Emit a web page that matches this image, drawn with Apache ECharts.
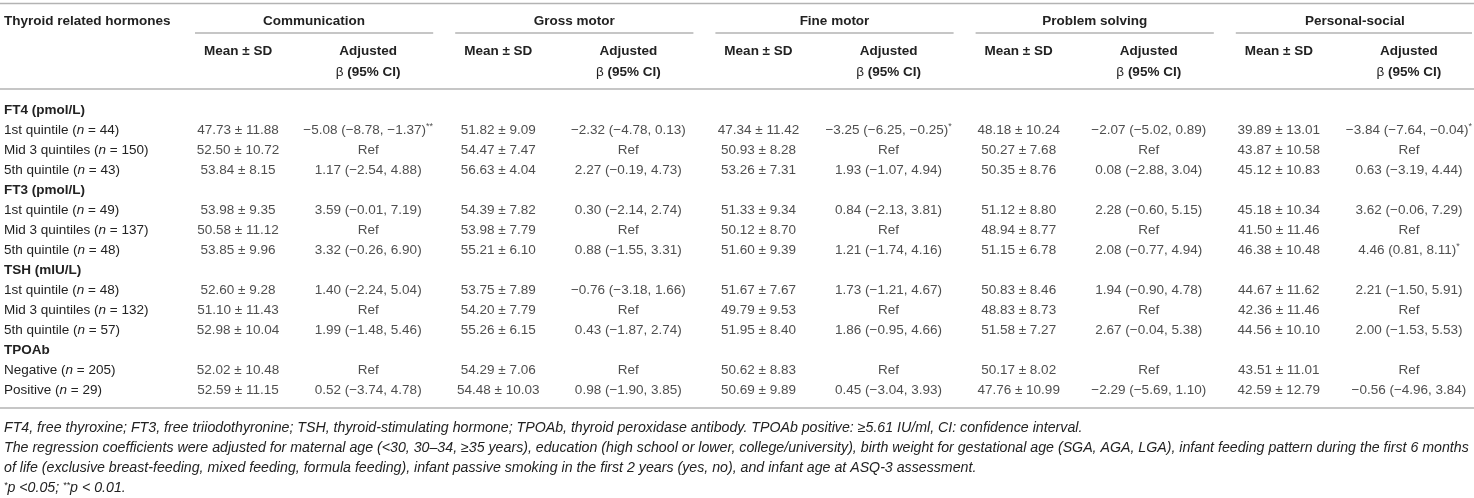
<!DOCTYPE html>
<html>
<head>
<meta charset="utf-8">
<script src="https://cdn.jsdelivr.net/npm/echarts@6/dist/echarts.min.js"></script>
<style>
  html, body { margin: 0; padding: 0; background: #fff; }
  #chart { width: 1474px; height: 498px; }
</style>
</head>
<body>
<div id="chart"></div>
<script>
// ---- table data ----
const cornerHead = 'Thyroid related hormones';
const domains = ['Communication', 'Gross motor', 'Fine motor', 'Problem solving', 'Personal-social'];
const columnHeads = ['Mean ± SD', 'Adjusted\nβ (95% CI)'];
const groupRows = ['FT4 (pmol/L)', 'FT3 (pmol/L)', 'TSH (mIU/L)', 'TPOAb'];
const rowLabels = [
  'FT4 (pmol/L)', '1st quintile (n = 44)', 'Mid 3 quintiles (n = 150)', '5th quintile (n = 43)',
  'FT3 (pmol/L)', '1st quintile (n = 49)', 'Mid 3 quintiles (n = 137)', '5th quintile (n = 48)',
  'TSH (mIU/L)', '1st quintile (n = 48)', 'Mid 3 quintiles (n = 132)', '5th quintile (n = 57)',
  'TPOAb', 'Negative (n = 205)', 'Positive (n = 29)'
];

// [mean, SD] for each data row (group header rows skipped)
const commMean = [[47.73, 11.88], [52.50, 10.72], [53.84, 8.15], [53.98, 9.35], [50.58, 11.12], [53.85, 9.96],
  [52.60, 9.28], [51.10, 11.43], [52.98, 10.04], [52.02, 10.48], [52.59, 11.15]];
const grossMean = [[51.82, 9.09], [54.47, 7.47], [56.63, 4.04], [54.39, 7.82], [53.98, 7.79], [55.21, 6.10],
  [53.75, 7.89], [54.20, 7.79], [55.26, 6.15], [54.29, 7.06], [54.48, 10.03]];
const fineMean = [[47.34, 11.42], [50.93, 8.28], [53.26, 7.31], [51.33, 9.34], [50.12, 8.70], [51.60, 9.39],
  [51.67, 7.67], [49.79, 9.53], [51.95, 8.40], [50.62, 8.83], [50.69, 9.89]];
const problemMean = [[48.18, 10.24], [50.27, 7.68], [50.35, 8.76], [51.12, 8.80], [48.94, 8.77], [51.15, 6.78],
  [50.83, 8.46], [48.83, 8.73], [51.58, 7.27], [50.17, 8.02], [47.76, 10.99]];
const personalMean = [[39.89, 13.01], [43.87, 10.58], [45.12, 10.83], [45.18, 10.34], [41.50, 11.46], [46.38, 10.48],
  [44.67, 11.62], [42.36, 11.46], [44.56, 10.10], [43.51, 11.01], [42.59, 12.79]];

// [beta, lower, upper, significance]; null = reference group
const commBeta = [[-5.08, -8.78, -1.37, '**'], null, [1.17, -2.54, 4.88, ''], [3.59, -0.01, 7.19, ''], null,
  [3.32, -0.26, 6.90, ''], [1.40, -2.24, 5.04, ''], null, [1.99, -1.48, 5.46, ''], null, [0.52, -3.74, 4.78, '']];
const grossBeta = [[-2.32, -4.78, 0.13, ''], null, [2.27, -0.19, 4.73, ''], [0.30, -2.14, 2.74, ''], null,
  [0.88, -1.55, 3.31, ''], [-0.76, -3.18, 1.66, ''], null, [0.43, -1.87, 2.74, ''], null, [0.98, -1.90, 3.85, '']];
const fineBeta = [[-3.25, -6.25, -0.25, '*'], null, [1.93, -1.07, 4.94, ''], [0.84, -2.13, 3.81, ''], null,
  [1.21, -1.74, 4.16, ''], [1.73, -1.21, 4.67, ''], null, [1.86, -0.95, 4.66, ''], null, [0.45, -3.04, 3.93, '']];
const problemBeta = [[-2.07, -5.02, 0.89, ''], null, [0.08, -2.88, 3.04, ''], [2.28, -0.60, 5.15, ''], null,
  [2.08, -0.77, 4.94, ''], [1.94, -0.90, 4.78, ''], null, [2.67, -0.04, 5.38, ''], null, [-2.29, -5.69, 1.10, '']];
const personalBeta = [[-3.84, -7.64, -0.04, '*'], null, [0.63, -3.19, 4.44, ''], [3.62, -0.06, 7.29, ''], null,
  [4.46, 0.81, 8.11, '*'], [2.21, -1.50, 5.91, ''], null, [2.00, -1.53, 5.53, ''], null, [-0.56, -4.96, 3.84, '']];

const footnotes = [
  'FT4, free thyroxine; FT3, free triiodothyronine; TSH, thyroid-stimulating hormone; TPOAb, thyroid peroxidase antibody. TPOAb positive: ≥5.61 IU/ml, CI: confidence interval.',
  'The regression coefficients were adjusted for maternal age (<30, 30–34, ≥35 years), education (high school or lower, college/university), birth weight for gestational age (SGA, AGA, LGA), infant feeding pattern during the first 6 months',
  'of life (exclusive breast-feeding, mixed feeding, formula feeding), infant passive smoking in the first 2 years (yes, no), and infant age at ASQ-3 assessment.',
  '{s|*}p <0.05; {s|**}p < 0.01.'
];

// ---- helpers ----
const FONT = '"Liberation Sans", Arial, sans-serif';
const TEXT = '#222';
const RULE = '#b3b3b3';
const FS = 13.5;
const FS_NOTE = 14.2;

const num = v => (v < 0 ? '\u2212' : '') + Math.abs(v).toFixed(2);
const fmtMean = m => m[0].toFixed(2) + ' ± ' + m[1].toFixed(2);
const fmtBeta = b => b === null ? 'Ref'
  : num(b[0]) + ' (' + num(b[1]) + ', ' + num(b[2]) + ')' + (b[3] ? '{sup|' + b[3] + '}' : '');

const means = [commMean, grossMean, fineMean, problemMean, personalMean];
const betas = [commBeta, grossBeta, fineBeta, problemBeta, personalBeta];

const dataRowIdx = rowLabels.map((r, i) => groupRows.includes(r) ? -1 : i).filter(i => i >= 0);
const colLabels = [];
domains.forEach(() => colLabels.push(...columnHeads));

const cells = [];
domains.forEach((d, di) => {
  dataRowIdx.forEach((ri, k) => {
    cells.push([di * 2, ri, fmtMean(means[di][k])]);
    cells.push([di * 2 + 1, ri, fmtBeta(betas[di][k])]);
  });
});

// header label: bold, except a leading β which is set in regular weight
const headFmt = v => {
  const lines = v.split('\n').map(s => s.charAt(0) === 'β'
    ? '{r|β}{b|' + s.slice(1) + '}'
    : '{b|' + s + '}');
  if (lines.length < 2) lines.push('{b| }');
  return lines.join('\n');
};

// ---- layout ----
const W = 1474;
const gridLeft = 173, gridTop = 100, rowH = 20;
const colW = (W - gridLeft) / colLabels.length;

const chart = echarts.init(document.getElementById('chart'), null, { renderer: 'canvas' });

const rule = (x1, x2, y) => ({
  type: 'line', silent: true,
  shape: { x1: x1, y1: y, x2: x2, y2: y },
  style: { stroke: RULE, lineWidth: 1.6 }
});

const graphics = [rule(0, W, 3.5), rule(0, W, 89), rule(0, W, 408)];
domains.forEach((d, di) => {
  const x0 = gridLeft + di * 2 * colW;
  graphics.push(rule(x0 + 22, Math.min(x0 + 2 * colW, W - 2), 33));
});
graphics.push({
  type: 'text', silent: true, x: 4, y: 21,
  style: {
    text: cornerHead, fill: TEXT, fontWeight: 'bold', fontSize: FS, fontFamily: FONT,
    verticalAlign: 'middle', align: 'left'
  }
});
footnotes.forEach((t, i) => {
  graphics.push({
    type: 'text', silent: true, x: 4, y: 428 + i * 20,
    style: {
      text: t, fill: TEXT, fontStyle: 'italic', fontSize: FS_NOTE, fontFamily: FONT,
      verticalAlign: 'middle', align: 'left',
      rich: { s: { fontSize: 9, fontStyle: 'italic', fontFamily: FONT, verticalAlign: 'top', lineHeight: 9, fill: TEXT } }
    }
  });
});

const option = {
  backgroundColor: '#fff',
  animation: false,
  textStyle: { fontFamily: FONT, color: TEXT },
  grid: { left: gridLeft, right: 0, top: gridTop, height: rowLabels.length * rowH, containLabel: false },
  xAxis: [
    {
      type: 'category', position: 'top', data: colLabels,
      axisLine: { show: false }, axisTick: { show: false }, splitLine: { show: false },
      axisLabel: {
        interval: 0, margin: 17, color: TEXT,
        formatter: headFmt,
        rich: {
          b: { fontWeight: 'bold', fontSize: FS, lineHeight: 21, fontFamily: FONT, color: TEXT },
          r: { fontWeight: 'normal', fontSize: FS, lineHeight: 21, fontFamily: FONT, color: TEXT }
        }
      }
    },
    {
      type: 'category', position: 'top', offset: 61, data: domains,
      axisLine: { show: false }, axisTick: { show: false }, splitLine: { show: false },
      axisLabel: {
        interval: 0, margin: 8, color: TEXT, fontWeight: 'bold', fontSize: FS, fontFamily: FONT,
        lineHeight: 20, padding: [0, 0, 0, 22]
      }
    }
  ],
  yAxis: {
    type: 'category', inverse: true, data: rowLabels,
    axisLine: { show: false }, axisTick: { show: false }, splitLine: { show: false },
    axisLabel: {
      interval: 0, align: 'left', margin: gridLeft - 4, color: TEXT, fontSize: FS, fontFamily: FONT,
      formatter: v => groupRows.includes(v) ? '{g|' + v + '}' : v.replace('(n =', '({i|n} ='),
      rich: {
        g: { fontWeight: 'bold', fontSize: FS, fontFamily: FONT, color: TEXT },
        i: { fontStyle: 'italic', fontSize: FS, fontFamily: FONT, color: TEXT }
      }
    }
  },
  series: [{
    type: 'scatter',
    data: cells,
    symbolSize: 1,
    itemStyle: { color: 'rgba(0,0,0,0)' },
    silent: true,
    label: {
      show: true, position: 'inside', color: TEXT, fontSize: FS, fontFamily: FONT, lineHeight: 16,
      formatter: p => p.data[2],
      rich: { sup: { fontSize: 9, lineHeight: 9, verticalAlign: 'top', color: TEXT, fontFamily: FONT } }
    }
  }],
  graphic: graphics
};

chart.setOption(option);
</script>
</body>
</html>
